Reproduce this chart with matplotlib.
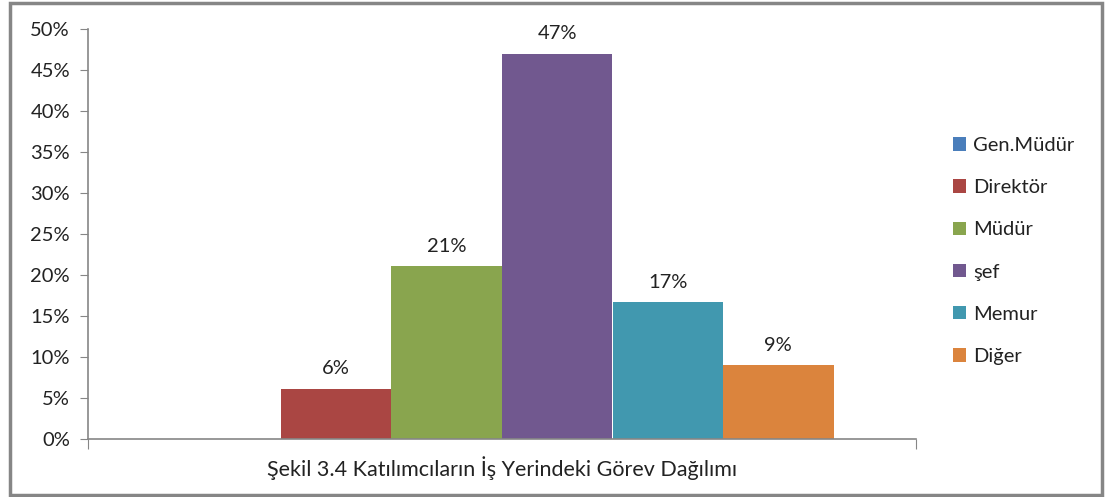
import matplotlib.pyplot as plt
from matplotlib.patches import Rectangle
import numpy as np

plt.rcParams['font.family'] = ['Lato', 'DejaVu Sans']

category = 'Şekil 3.4 Katılımcıların İş Yerindeki Görev Dağılımı'
series = ['Gen.Müdür', 'Direktör', 'Müdür', 'şef', 'Memur', 'Diğer']
values = [0, 6.1, 21.1, 47.0, 16.7, 9.0]
labels = ['', '6%', '21%', '47%', '17%', '9%']
colors = ['#4A7EBB', '#AA4643', '#89A54E', '#71588F', '#4198AF', '#DB843D']

fig = plt.figure(figsize=(11.11, 4.97), dpi=100)
# outer chart frame
fig.patches.append(Rectangle((10 / 1111, 2 / 497), 1092 / 1111, 492 / 497,
                             transform=fig.transFigure, fill=False,
                             edgecolor='#868686', linewidth=2.5))

ax = fig.add_axes([88 / 1111, 1 - 439 / 497, 828 / 1111, 410 / 497])
w = 110.5 / 828
offsets = (np.arange(len(series)) - 2.5) * w
for i, s in enumerate(series):
    ax.bar(offsets[i], values[i], width=w, color=colors[i], label=s)
    if labels[i]:
        ax.text(offsets[i], values[i] + 1.4, labels[i], ha='center',
                va='bottom', fontsize=14.5, color='#222222')

ax.set_xlim(-0.5, 0.5)
ax.set_ylim(0, 50)
ax.set_yticks(np.arange(0, 51, 5))
ax.set_yticklabels([f'{v}%' for v in range(0, 51, 5)], fontsize=14.5, color='#222222')
ax.set_xticks([-0.5, 0.5])
ax.set_xticklabels(['', ''])
ax.tick_params(axis='x', length=7, color='#868686', direction='out')
ax.tick_params(axis='y', length=6, color='#868686', pad=7)
ax.text(0, -3.5, category, ha='center', va='center', fontsize=15.5, color='#222222')
for side in ['top', 'right']:
    ax.spines[side].set_visible(False)
for side in ['left', 'bottom']:
    ax.spines[side].set_color('#868686')
    ax.spines[side].set_linewidth(1.2)

leg = ax.legend(loc='upper left', bbox_to_anchor=(953 / 1111, 1 - 137 / 497),
                bbox_transform=fig.transFigure, frameon=False, fontsize=14.5,
                handlelength=0.65, handleheight=0.65, handletextpad=0.35,
                labelspacing=1.25, borderaxespad=0, borderpad=0)
for t in leg.get_texts():
    t.set_color('#222222')

fig.savefig('out.png', dpi=100)
